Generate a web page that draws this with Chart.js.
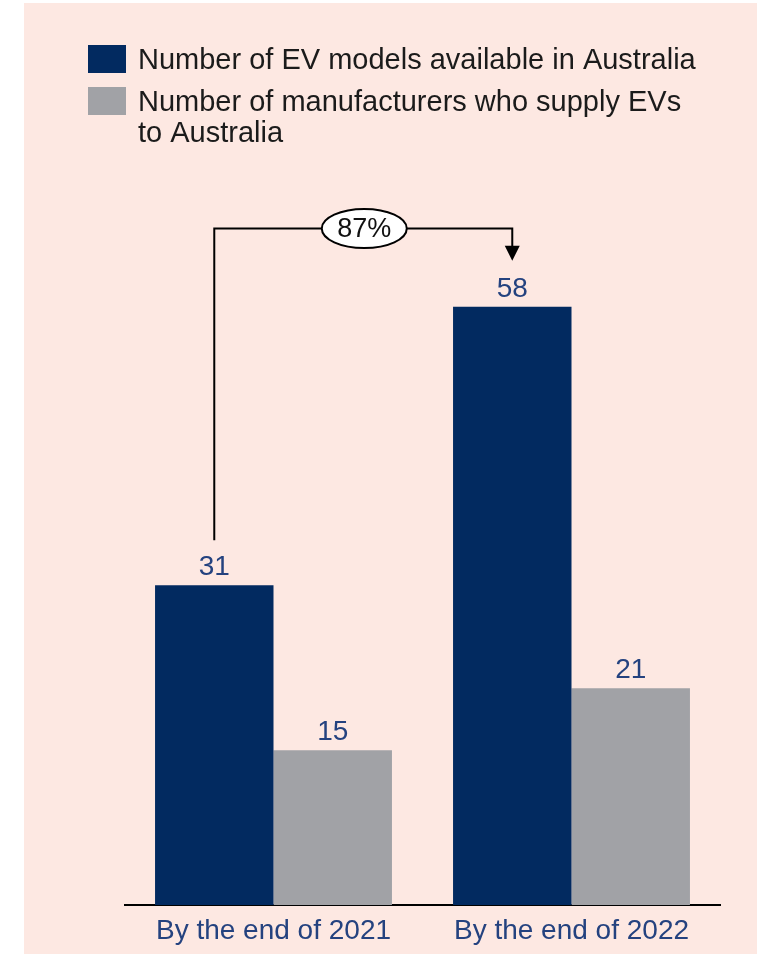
<!DOCTYPE html>
<html>
<head>
<meta charset="utf-8">
<script src="https://cdn.jsdelivr.net/npm/chart.js@4/dist/chart.umd.min.js"></script>
<style>
  html, body { margin: 0; padding: 0; background: #fff; }
  #wrap { width: 757px; height: 954px; position: relative; }
</style>
</head>
<body>
<div id="wrap"><canvas id="evChart" width="757" height="954"></canvas></div>
<script>
// Chart data
const categories = ["By the end of 2021", "By the end of 2022"];
const modelsAvailable = [31, 58];
const manufacturers = [15, 21];
const seriesLabels = [
  ["Number of EV models available in Australia"],
  ["Number of manufacturers who supply EVs", "to Australia"]
];
const growthLabel = "87%";

const NAVY = "#022a60";
const GREY = "#a1a2a6";
const PINK = "#fde8e2";
const LABEL_BLUE = "#24427f";
const FONT = "'Liberation Sans', Arial, sans-serif";

// Pink panel behind everything
const backgroundPanel = {
  id: "backgroundPanel",
  beforeDraw(chart) {
    const ctx = chart.ctx;
    ctx.save();
    ctx.fillStyle = "#fff";
    ctx.fillRect(0, 0, chart.width, chart.height);
    ctx.fillStyle = PINK;
    ctx.fillRect(24, 3, chart.width - 24, chart.height - 3);
    ctx.restore();
  }
};

// Legend drawn by hand so the second label can wrap onto two lines
const wrappedLegend = {
  id: "wrappedLegend",
  afterDraw(chart) {
    const ctx = chart.ctx;
    ctx.save();
    ctx.font = "29px " + FONT;
    ctx.textBaseline = "alphabetic";
    let y = 45;
    chart.data.datasets.forEach((ds, i) => {
      ctx.fillStyle = ds.backgroundColor;
      ctx.fillRect(88, y, 38, 28);
      ctx.fillStyle = "#1b1b1b";
      seriesLabels[i].forEach((line, j) => {
        ctx.fillText(line, 138, y + 24 + j * 31);
      });
      y += 42;
    });
    ctx.restore();
  }
};

// Value labels above each bar
const valueLabels = {
  id: "valueLabels",
  afterDatasetsDraw(chart) {
    const ctx = chart.ctx;
    ctx.save();
    ctx.font = "28px " + FONT;
    ctx.fillStyle = LABEL_BLUE;
    ctx.textAlign = "center";
    ctx.textBaseline = "alphabetic";
    chart.data.datasets.forEach((ds, i) => {
      chart.getDatasetMeta(i).data.forEach((bar, j) => {
        ctx.fillText(ds.data[j], bar.x, bar.y - 10);
      });
    });
    ctx.restore();
  }
};

// Elbow arrow from 2021 models bar to 2022 models bar with % bubble
const growthArrow = {
  id: "growthArrow",
  afterDatasetsDraw(chart) {
    const ctx = chart.ctx;
    const bars = chart.getDatasetMeta(0).data;
    const x0 = bars[0].x, x1 = bars[1].x;
    const yStart = bars[0].y - 45;
    const yTop = 228.5;
    const tipY = bars[1].y - 46;
    ctx.save();
    ctx.strokeStyle = "#000";
    ctx.lineWidth = 2;
    ctx.beginPath();
    ctx.moveTo(x0, yStart);
    ctx.lineTo(x0, yTop);
    ctx.lineTo(x1, yTop);
    ctx.lineTo(x1, tipY - 12);
    ctx.stroke();
    ctx.fillStyle = "#000";
    ctx.beginPath();
    ctx.moveTo(x1 - 7.5, tipY - 15);
    ctx.lineTo(x1 + 7.5, tipY - 15);
    ctx.lineTo(x1, tipY);
    ctx.closePath();
    ctx.fill();
    // bubble
    const cx = (x0 + x1) / 2 + 1;
    ctx.beginPath();
    ctx.ellipse(cx, yTop, 42.5, 19.5, 0, 0, Math.PI * 2);
    ctx.fillStyle = "#fff";
    ctx.fill();
    ctx.stroke();
    ctx.fillStyle = "#111";
    ctx.font = "27px " + FONT;
    ctx.textAlign = "center";
    ctx.textBaseline = "middle";
    ctx.fillText(growthLabel, cx, yTop + 1);
    ctx.restore();
  }
};

new Chart("evChart", {
  type: "bar",
  data: {
    labels: categories,
    datasets: [
      { label: seriesLabels[0].join(" "), data: modelsAvailable, backgroundColor: NAVY },
      { label: seriesLabels[1].join(" "), data: manufacturers, backgroundColor: GREY }
    ]
  },
  options: {
    responsive: false,
    animation: false,
    layout: { padding: { left: 124.5, right: 36.5, top: 286, bottom: 0 } },
    datasets: { bar: { categoryPercentage: 0.795, barPercentage: 1.0 } },
    plugins: {
      legend: { display: false },
      tooltip: { enabled: false }
    },
    scales: {
      x: {
        afterFit(scale) { scale.height = 49; },
        grid: { display: false, drawTicks: false },
        border: { display: true, color: "#000", width: 2 },
        ticks: { color: LABEL_BLUE, font: { family: FONT, size: 28 }, padding: 9 }
      },
      y: {
        display: false,
        min: 0,
        max: 60
      }
    }
  },
  plugins: [backgroundPanel, wrappedLegend, valueLabels, growthArrow]
});
</script>
</body>
</html>
